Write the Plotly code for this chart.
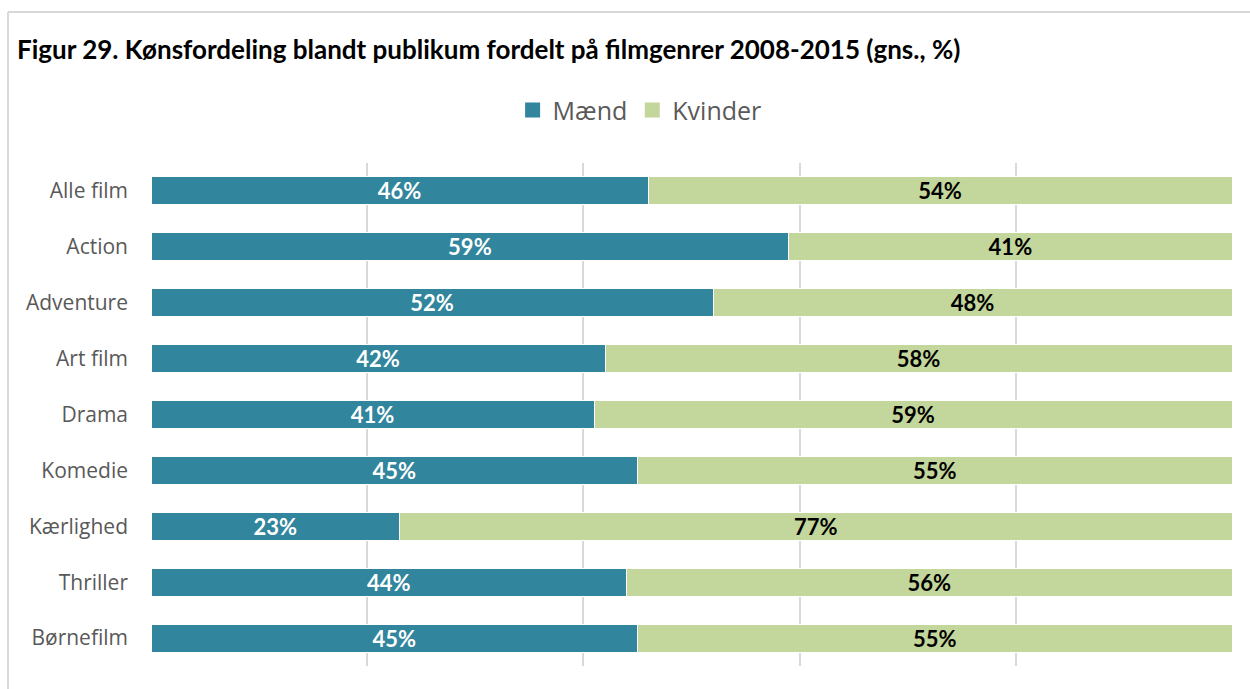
import plotly.graph_objects as go

# Genres and average audience share by gender, 2008-2015 (%)
genres = ["Alle film", "Action", "Adventure", "Art film", "Drama",
          "Komedie", "Kærlighed", "Thriller", "Børnefilm"]
maend = [46, 59, 52, 42, 41, 45, 23, 44, 45]
kvinder = [54, 41, 48, 58, 59, 55, 77, 56, 55]
series_names = ["Mænd", "Kvinder"]

TEAL = "#31859C"
GREEN = "#C3D69B"
GRID = "#D9D9D9"
LABEL_FONT = "Lato, Calibri, Carlito, sans-serif"
TEXT_FONT = "Open Sans, Segoe UI, sans-serif"

fig = go.Figure()
for name, vals, col, txtcol in [(series_names[0], maend, TEAL, "white"),
                                (series_names[1], kvinder, GREEN, "black")]:
    fig.add_trace(go.Bar(
        name=name, y=genres, x=vals, orientation="h", showlegend=False,
        marker=dict(color=col, line=dict(color="white", width=1)),
        text=[f"<b>{v}%</b>" for v in vals], textposition="inside",
        insidetextanchor="middle", textangle=0, constraintext="none",
        textfont=dict(color=txtcol, size=22, family=LABEL_FONT),
    ))
    # legend entry with a larger square swatch
    fig.add_trace(go.Scatter(
        name=name, x=[None], y=[None], mode="markers",
        marker=dict(symbol="square", size=15, color=col),
    ))

# Frame around the figure (top and left edges)
fx = (8 - 151) / 1081
fy = (666 - 12) / 503
fig.add_shape(type="line", xref="paper", yref="paper",
              x0=fx, x1=fx, y0=-0.2, y1=fy, line=dict(color=GRID, width=2))
fig.add_shape(type="line", xref="paper", yref="paper",
              x0=fx, x1=1.2, y0=fy, y1=fy, line=dict(color=GRID, width=2))

fig.update_layout(
    width=1250, height=689,
    margin=dict(l=151, r=18, t=163, b=23),
    paper_bgcolor="white", plot_bgcolor="white",
    barmode="stack", bargap=0.5,
    font=dict(family=TEXT_FONT, color="#595959"),
    title=dict(
        text="<b>Figur 29. Kønsfordeling blandt publikum fordelt på filmgenrer 2008-2015 (gns., %)</b>",
        x=17 / 1250, xanchor="left", xref="container",
        y=1 - 50 / 689, yanchor="middle", yref="container",
        font=dict(size=26, color="black", family=LABEL_FONT),
    ),
    legend=dict(
        orientation="h", x=0.452, xanchor="center", y=1.105, yanchor="middle",
        font=dict(size=25, color="#595959"), traceorder="normal",
        itemwidth=30,
    ),
    xaxis=dict(range=[0, 100], dtick=20, showgrid=True, gridcolor=GRID,
               gridwidth=1.5, showticklabels=False, zeroline=False,
               showline=False, fixedrange=True),
    yaxis=dict(autorange="reversed", showgrid=False, showline=False,
               ticks="", ticklabelstandoff=22,
               tickfont=dict(size=21, color="#595959")),
    showlegend=True,
)

fig.write_html("out.html")
